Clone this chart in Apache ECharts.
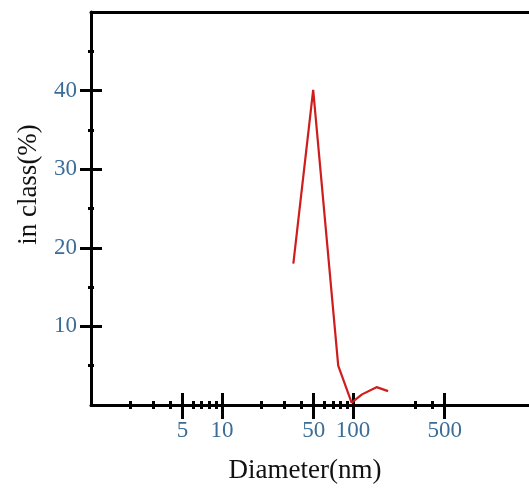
<!DOCTYPE html>
<html>
<head>
<meta charset="utf-8">
<script src="https://cdn.jsdelivr.net/npm/echarts@6.0.0/dist/echarts.min.js"></script>
<style>
html,body{margin:0;padding:0;background:#fff;}
#chart{width:529px;height:491px;}
</style>
</head>
<body>
<div id="chart"></div>
<script>
// 粒径分布 (数值读自原图)
var diameters = [35, 49.6, 77, 97.4, 117, 151, 185];
var percents = [18.0, 40.1, 5.0, 0.3, 1.35, 2.27, 1.77];

// 刻度
var xLabelTicks = [5, 10, 50, 100, 500];
var xMinorTicks = [2, 3, 4, 6, 7, 8, 9, 20, 30, 40, 60, 70, 80, 90, 300, 400];
var yLabelTicks = [10, 20, 30, 40];
var yMinorTicks = [5, 15, 25, 35, 45];
var xMin = 1, xMax = 2200;
var yMin = 0, yMax = 50;

var serif = 'Liberation Serif';
var labelColor = '#3b6d98';
var black = '#000';

var lineData = [];
for (var i = 0; i < diameters.length; i++) {
	lineData.push([diameters[i], percents[i]]);
}

// 只画刻度线的辅助轴 (通过 offset 让刻度横跨轴线)
function tickAxis(type, pos, min, max, offset, values, len) {
	return {
		type: type, position: pos, min: min, max: max, offset: offset,
		axisLine: {show: false},
		axisTick: {show: true, inside: false, length: len, customValues: values,
			lineStyle: {color: black, width: 3}},
		axisLabel: {show: false},
		splitLine: {show: false}
	};
}

var option = {
	animation: false,
	backgroundColor: '#fff',
	grid: {left: 91, right: 0, top: 12, bottom: 86, containLabel: false, outerBoundsMode: 'none'},
	xAxis: [
		{
			type: 'log', position: 'bottom', min: xMin, max: xMax,
			axisLine: {show: true, lineStyle: {color: black, width: 3}},
			axisTick: {show: false},
			splitLine: {show: false},
			axisLabel: {customValues: xLabelTicks, margin: 14, color: labelColor,
				fontFamily: serif, fontSize: 23},
			name: 'Diameter(nm)', nameLocation: 'middle', nameGap: 52,
			nameTextStyle: {color: '#111', fontFamily: serif, fontSize: 27, padding: [0, 10, 0, 0]}
		},
		tickAxis('log', 'bottom', xMin, xMax, -12, xLabelTicks, 26),
		tickAxis('log', 'bottom', xMin, xMax, -4, xMinorTicks, 8),
		{
			type: 'log', position: 'top', min: xMin, max: xMax,
			axisLine: {show: true, lineStyle: {color: black, width: 3}},
			axisTick: {show: false}, axisLabel: {show: false}, splitLine: {show: false}
		}
	],
	yAxis: [
		{
			type: 'value', position: 'left', min: yMin, max: yMax,
			axisLine: {show: true, lineStyle: {color: black, width: 3}},
			axisTick: {show: false},
			splitLine: {show: false},
			axisLabel: {customValues: yLabelTicks, margin: 14, color: labelColor,
				fontFamily: serif, fontSize: 23},
			name: 'in class(%)', nameLocation: 'middle', nameGap: 49,
			nameTextStyle: {color: '#111', fontFamily: serif, fontSize: 27, padding: [0, 0, 0, 48]}
		},
		tickAxis('value', 'left', yMin, yMax, -11, yLabelTicks, 22),
		tickAxis('value', 'left', yMin, yMax, -3, yMinorTicks, 6)
	],
	series: [{
		type: 'line',
		xAxisIndex: 0, yAxisIndex: 0,
		data: lineData,
		symbol: 'none',
		lineStyle: {color: '#cf1d1d', width: 2.2}
	}]
};

var chart = echarts.init(document.getElementById('chart'));
chart.setOption(option);
</script>
</body>
</html>
